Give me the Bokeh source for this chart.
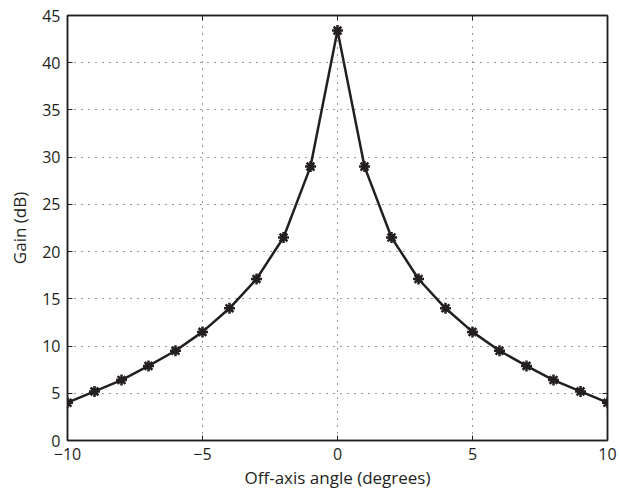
from bokeh.plotting import figure
from bokeh.models import LinearAxis, Range1d, FixedTicker
from bokeh.embed import file_html
from bokeh.resources import INLINE

angles = [-10, -9, -8, -7, -6, -5, -4, -3, -2, -1, 0, 1, 2, 3, 4, 5, 6, 7, 8, 9, 10]
gain_db = [4.0, 5.2, 6.4, 7.9, 9.5, 11.5, 14.0, 17.1, 21.5, 29.0, 43.4,
           29.0, 21.5, 17.1, 14.0, 11.5, 9.5, 7.9, 6.4, 5.2, 4.0]
x_ticks = [-10, -5, 0, 5, 10]
y_ticks = [0, 5, 10, 15, 20, 25, 30, 35, 40, 45]

FONT = "Open Sans"
INK = "#231f20"

p = figure(width=619, height=494, output_backend="svg", toolbar_location=None,
           x_range=Range1d(-10, 10), y_range=Range1d(0, 45),
           min_border_left=67, min_border_right=12, min_border_top=15, min_border_bottom=54)
p.outline_line_color = INK
p.outline_line_width = 1.5
p.background_fill_color = "white"
p.border_fill_color = "white"

def style_axis(ax, ticks, labels=True):
    ax.ticker = FixedTicker(ticks=ticks)
    ax.major_tick_in = 5
    ax.major_tick_out = 0
    ax.minor_tick_in = 0
    ax.minor_tick_out = 0
    ax.axis_line_color = INK
    ax.axis_line_width = 1.5
    ax.major_tick_line_color = INK
    ax.major_tick_line_width = 1
    ax.major_label_text_font = FONT
    ax.major_label_text_font_size = "16px"
    ax.major_label_text_color = INK if labels else None
    ax.axis_label_text_font = FONT
    ax.axis_label_text_font_size = "17px"
    ax.axis_label_text_font_style = "normal"
    ax.axis_label_text_color = INK

style_axis(p.xaxis[0], x_ticks)
style_axis(p.yaxis[0], y_ticks)
p.xaxis[0].major_label_overrides = {t: (("\u2212" + str(-t)) if t < 0 else str(t)) for t in x_ticks}
p.xaxis[0].axis_label = "Off-axis angle (degrees)"
p.yaxis[0].axis_label = "Gain (dB)"
p.xaxis[0].major_label_standoff = 7
p.yaxis[0].major_label_standoff = 7
p.xaxis[0].axis_label_standoff = 3
p.yaxis[0].axis_label_standoff = 8

top = LinearAxis()
style_axis(top, x_ticks, labels=False)
top.major_label_text_font_size = "0px"
top.major_label_standoff = 0
p.add_layout(top, "above")
right = LinearAxis()
style_axis(right, y_ticks, labels=False)
right.major_label_text_font_size = "0px"
right.major_label_standoff = 0
p.add_layout(right, "right")

for g, t in ((p.xgrid[0], x_ticks), (p.ygrid[0], y_ticks)):
    g.ticker = FixedTicker(ticks=t)
    g.grid_line_color = "#333333"
    g.grid_line_dash = "1 6"
    g.grid_line_width = 1

p.line(angles, gain_db, line_color=INK, line_width=2.5)
p.scatter(angles, gain_db, marker="asterisk", size=11, line_color=INK, line_width=2.5)

open("out.html", "w").write(file_html(p, INLINE))
